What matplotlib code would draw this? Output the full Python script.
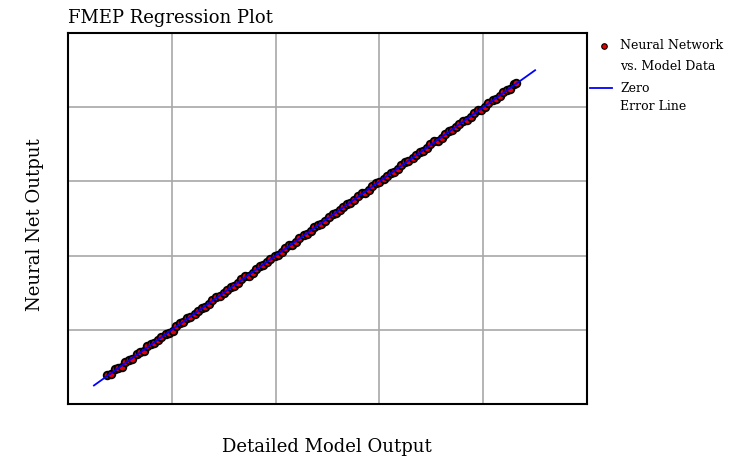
import matplotlib.pyplot as plt
from matplotlib.lines import Line2D

plt.rcParams['font.family'] = ['DejaVu Serif']

# detailed model output vs neural net output
model_out = [0.38, 0.41, 0.45, 0.48, 0.52, 0.55, 0.59, 0.62, 0.66, 0.69,
             0.73, 0.76, 0.80, 0.83, 0.87, 0.90, 0.94, 0.97, 1.01, 1.04,
             1.08, 1.11, 1.15, 1.18, 1.22, 1.25, 1.29, 1.32, 1.36, 1.39,
             1.43, 1.46, 1.50, 1.53, 1.57, 1.60, 1.64, 1.67, 1.71, 1.74,
             1.78, 1.81, 1.85, 1.88, 1.92, 1.95, 1.99, 2.02, 2.06, 2.09,
             2.13, 2.16, 2.20, 2.23, 2.27, 2.30, 2.34, 2.37, 2.41, 2.44,
             2.48, 2.51, 2.55, 2.58, 2.62, 2.65, 2.69, 2.72, 2.76, 2.79,
             2.83, 2.86, 2.90, 2.93, 2.97, 3.00, 3.04, 3.07, 3.11, 3.14,
             3.18, 3.21, 3.25, 3.28, 3.32, 3.35, 3.39, 3.42, 3.46, 3.49,
             3.53, 3.56, 3.60, 3.63, 3.67, 3.70, 3.74, 3.77, 3.81, 3.84,
             3.88, 3.91, 3.95, 3.98, 4.02, 4.05, 4.09, 4.12, 4.16, 4.19,
             4.23, 4.26, 4.30, 4.32]
net_out = [0.39, 0.40, 0.47, 0.48, 0.50, 0.56, 0.60, 0.61, 0.67, 0.70,
           0.72, 0.78, 0.81, 0.82, 0.86, 0.91, 0.95, 0.96, 0.99, 1.05,
           1.09, 1.10, 1.16, 1.17, 1.21, 1.26, 1.30, 1.31, 1.35, 1.40,
           1.44, 1.45, 1.49, 1.54, 1.58, 1.59, 1.63, 1.68, 1.72, 1.73,
           1.77, 1.82, 1.86, 1.87, 1.91, 1.96, 2.00, 2.01, 2.05, 2.10,
           2.14, 2.15, 2.19, 2.24, 2.28, 2.29, 2.33, 2.38, 2.42, 2.43,
           2.47, 2.52, 2.56, 2.57, 2.61, 2.66, 2.70, 2.71, 2.75, 2.80,
           2.84, 2.85, 2.89, 2.94, 2.98, 2.99, 3.03, 3.08, 3.12, 3.13,
           3.17, 3.22, 3.26, 3.27, 3.31, 3.36, 3.40, 3.41, 3.45, 3.50,
           3.54, 3.55, 3.59, 3.64, 3.68, 3.69, 3.73, 3.78, 3.82, 3.83,
           3.87, 3.92, 3.96, 3.97, 4.01, 4.06, 4.10, 4.11, 4.15, 4.20,
           4.24, 4.25, 4.31, 4.33]
zero_line = [0.25, 4.50]

fig = plt.figure(figsize=(7.32, 4.59), dpi=100)
ax = fig.add_axes([0.0929, 0.1198, 0.709, 0.808])

ax.plot(model_out, net_out, 'o', color='#e00000', markeredgecolor='black',
        markeredgewidth=1.3, markersize=5.5, zorder=3)
ax.plot(zero_line, zero_line, color='blue', lw=1.3, zorder=4)

ax.set_xlim(0, 5)
ax.set_ylim(0, 5)
ax.set_xticks([1, 2, 3, 4])
ax.set_yticks([1, 2, 3, 4])
ax.tick_params(length=0, labelbottom=False, labelleft=False)
ax.grid(True, color='#a8a8a8', lw=1.2)
for s in ax.spines.values():
    s.set_linewidth(1.5)
    s.set_color('black')

fig.text(0.0929, 0.961, 'FMEP Regression Plot', fontsize=13, ha='left', va='center')
fig.text(0.447, 0.026, 'Detailed Model Output', fontsize=13, ha='center', va='center')
fig.text(0.048, 0.51, 'Neural Net Output', fontsize=13, ha='center', va='center', rotation=90)

# legend, drawn beside the plot area
fig.add_artist(Line2D([0.825], [0.900], marker='o', color='#e00000', markeredgecolor='black',
                      markeredgewidth=0.8, markersize=4, linestyle='none'))
fig.add_artist(Line2D([0.806, 0.836], [0.808, 0.808], color='blue', lw=1.3))
for txt, yy in [('Neural Network', 0.900), ('vs. Model Data', 0.856),
                ('Zero', 0.808), ('Error Line', 0.767)]:
    fig.text(0.847, yy, txt, fontsize=9, ha='left', va='center')

fig.savefig('out.png', dpi=100)
